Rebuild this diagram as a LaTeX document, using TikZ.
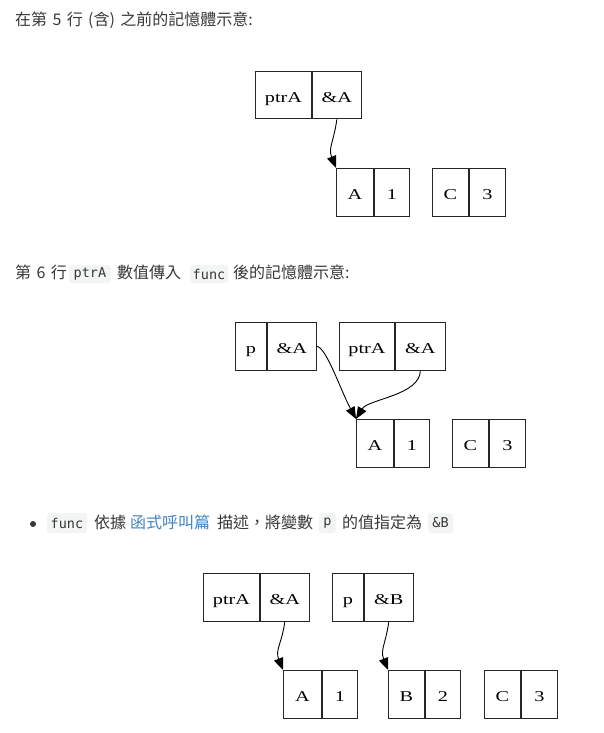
\documentclass[tikz,border=0pt]{standalone}
\usepackage{fontspec}
\setmainfont{Noto Sans CJK TC}
\newfontfamily\cjk[WordSpace=1.5]{Noto Sans CJK TC}
\newfontfamily\dserif[FakeStretch=1.35]{Liberation Serif}
\newfontfamily\codefont{DejaVu Sans Mono}
\usetikzlibrary{arrows.meta}
\definecolor{txtgray}{HTML}{383838}
\definecolor{codebg}{HTML}{F3F4F4}
\definecolor{linkblue}{HTML}{4183C4}
\tikzset{
  line/.style={anchor=base west, inner sep=0pt, font=\cjk\fontsize{16}{19}\selectfont, text=txtgray},
  codebox/.style={fill=codebg, rounded corners=3pt, inner sep=0pt, font=\codefont\fontsize{13.5}{16}\selectfont, text=txtgray},
  cell/.style={draw=black!85, line width=0.9pt, anchor=north west, inner sep=0pt, minimum height=47.5pt, text height=14pt, text depth=0pt, font=\dserif\fontsize{15}{17}\selectfont},
  ptr/.style={draw=black, line width=0.9pt, -{Triangle[length=12pt,width=9.5pt]}},
}
\begin{document}
\begin{tikzpicture}[x=1pt,y=-1pt]
\fill[white] (0,0) rectangle (604,733);
\useasboundingbox (0,0) rectangle (604,733);

% ---------- line 1 ----------
\node[line] (t1) at (15,25.5) {在第 5 行 (含) 之前的記憶體示意:};

% ---------- diagram 1 ----------
\node[cell, minimum width=56pt] (d1ptr) at (255,71) {ptrA};
\node[cell, minimum width=49pt] (d1ptrv) at (d1ptr.north east) {\&A};
\node[cell, minimum width=37pt] (d1A) at (336,168) {A};
\node[cell, minimum width=35pt] (d1Av) at (d1A.north east) {1};
\node[cell, minimum width=36pt] (d1C) at (432,168) {C};
\node[cell, minimum width=36pt] (d1Cv) at (d1C.north east) {3};
\draw[ptr] (d1ptrv.south) .. controls +(-3,22) and +(-8,-20) .. (d1A.north west);

% ---------- line 2 ----------
\node[line] (t2a) at (15,278) {第 6 行};
\node[codebox, minimum width=42pt, minimum height=18pt] (c2a) at (90,274) {ptrA};
\node[line] (t2b) at (117,278) {數值傳入};
\node[codebox, minimum width=38pt, minimum height=18pt] (c2b) at (209,274) {func};
\node[line] (t2c) at (233,278) {後的記憶體示意:};

% ---------- diagram 2 ----------
\node[cell, minimum width=31pt] (d2p) at (235,322) {p};
\node[cell, minimum width=49pt] (d2pv) at (d2p.north east) {\&A};
\node[cell, minimum width=55pt] (d2ptr) at (339,322) {ptrA};
\node[cell, minimum width=50pt] (d2ptrv) at (d2ptr.north east) {\&A};
\node[cell, minimum width=37pt] (d2A) at (356,419) {A};
\node[cell, minimum width=35pt] (d2Av) at (d2A.north east) {1};
\node[cell, minimum width=36pt] (d2C) at (452,419) {C};
\node[cell, minimum width=36pt] (d2Cv) at (d2C.north east) {3};
\draw[ptr] (d2pv.east) .. controls +(10,2) and +(-16,-30) .. (d2A.north west);
\draw[ptr] (d2ptrv.south) .. controls +(0,25) and +(12,-20) .. (d2A.north west);

% ---------- line 3 ----------
\node[circle, fill=txtgray, inner sep=0pt, minimum size=6pt] (bullet) at (33,524) {};
\node[codebox, minimum width=40pt, minimum height=20pt] (c3a) at (67,523) {func};
\node[line] (t3a) at (94,528) {依據};
\node[line, text=linkblue] (t3link) at (130,528) {函式呼叫篇};
\node[line] (t3b) at (217,528) {描述，將變數};
\node[codebox, minimum width=17pt, minimum height=20pt] (c3b) at (327.5,523) {p};
\node[line] (t3c) at (342,528) {的值指定為};
\node[codebox, minimum width=25pt, minimum height=20pt] (c3c) at (440.5,523) {\&B};

% ---------- diagram 3 ----------
\node[cell, minimum width=56pt] (d3ptr) at (203,573) {ptrA};
\node[cell, minimum width=49pt] (d3ptrv) at (d3ptr.north east) {\&A};
\node[cell, minimum width=31pt] (d3p) at (332,573) {p};
\node[cell, minimum width=49pt] (d3pv) at (d3p.north east) {\&B};
\node[cell, minimum width=38pt] (d3A) at (283,670) {A};
\node[cell, minimum width=35pt] (d3Av) at (d3A.north east) {1};
\node[cell, minimum width=36pt] (d3B) at (388,670) {B};
\node[cell, minimum width=35pt] (d3Bv) at (d3B.north east) {2};
\node[cell, minimum width=36pt] (d3C) at (484,670) {C};
\node[cell, minimum width=36pt] (d3Cv) at (d3C.north east) {3};
\draw[ptr] (d3ptrv.south) .. controls +(-3,22) and +(-8,-20) .. (d3A.north west);
\draw[ptr] (d3pv.south) .. controls +(-3,22) and +(-8,-20) .. (d3B.north west);
\end{tikzpicture}
\end{document}
